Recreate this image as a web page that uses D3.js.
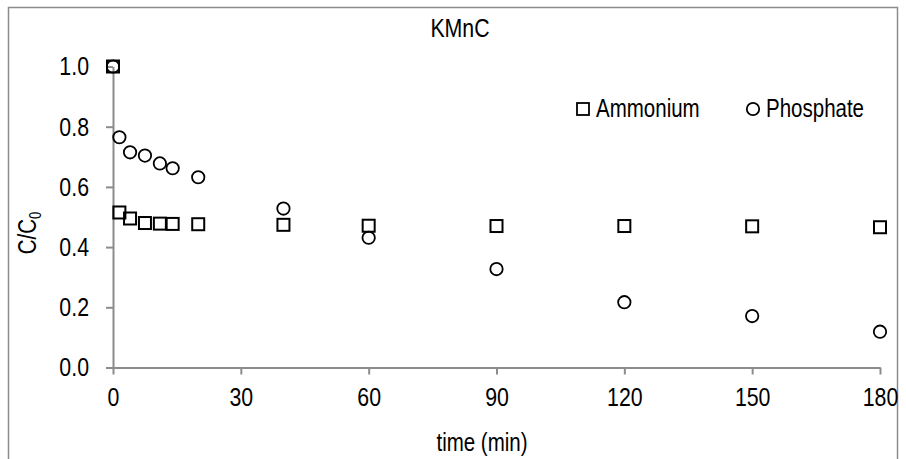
<!DOCTYPE html>
<html>
<head>
<meta charset="utf-8">
<script src="https://cdn.jsdelivr.net/npm/d3@7"></script>
<style>
  body { margin: 0; background: #fff; }
  svg text { font-family: "Liberation Sans Narrow", "Arial Narrow", "Liberation Sans", Arial, sans-serif; fill: #000; }
</style>
</head>
<body>
<svg id="chart" width="906" height="459"></svg>
<script>
// time (min) of each sample
var times = [0, 1.5, 4, 7.5, 11, 14, 20, 40, 60, 90, 120, 150, 180];
// C/C0 values
var ammonium = [1.0, 0.515, 0.495, 0.48, 0.478, 0.477, 0.476, 0.474, 0.471, 0.470, 0.470, 0.469, 0.466];
var phosphate = [1.0, 0.765, 0.715, 0.704, 0.678, 0.662, 0.632, 0.528, 0.431, 0.327, 0.217, 0.171, 0.119];
var xTicks = [0, 30, 60, 90, 120, 150, 180];
var yTicks = [0, 0.2, 0.4, 0.6, 0.8, 1.0];

var axisColor = "#8c8c8c";
var squeeze = 0.82;   // the original uses a narrow face
var svg = d3.select("#chart");

// squash text horizontally to mimic the narrow font
function narrow(sel) {
    sel.each(function() {
        var w = this.getComputedTextLength();
        this.setAttribute("textLength", w * squeeze);
        this.setAttribute("lengthAdjust", "spacingAndGlyphs");
    });
}

/* chart border */
svg.append("rect")
    .attr("x", 8.5).attr("y", 7.5)
    .attr("width", 889).attr("height", 470)
    .attr("fill", "none")
    .attr("stroke", "#8c8c8c")
    .attr("stroke-width", 1.5);

var x = d3.scaleLinear().domain([0, 180]).range([113, 880]);
var y = d3.scaleLinear().domain([0, 1]).range([367.5, 66.5]);

/* axes */
var gx = svg.append("g")
    .attr("transform", "translate(0," + y(0) + ")")
    .call(d3.axisBottom(x).tickValues(xTicks).tickSize(7).tickSizeOuter(0).tickPadding(13)
        .tickFormat(d => d));
var gy = svg.append("g")
    .attr("transform", "translate(" + x(0) + ",0)")
    .call(d3.axisLeft(y).tickValues(yTicks).tickSize(7).tickSizeOuter(0).tickPadding(17)
        .tickFormat(d3.format(".1f")));

[gx, gy].forEach(function(g) {
    g.attr("font-family", null).attr("font-size", null);
    g.select(".domain").attr("stroke", axisColor).attr("stroke-width", 2);
    g.selectAll(".tick line").attr("stroke", axisColor).attr("stroke-width", 2);
    g.selectAll(".tick text")
        .attr("font-size", 26)
        .attr("fill", "#000")
        .call(narrow);
});

/* titles */
svg.append("text")
    .attr("x", 460).attr("y", 37)
    .attr("text-anchor", "middle")
    .attr("font-size", 26)
    .text("KMnC")
    .call(narrow);

svg.append("text")
    .attr("x", 482).attr("y", 451)
    .attr("text-anchor", "middle")
    .attr("font-size", 25)
    .text("time (min)")
    .call(narrow);

var yt = svg.append("text")
    .attr("text-anchor", "middle")
    .attr("font-size", 25)
    .attr("transform", "translate(36,233) rotate(-90) scale(" + squeeze + ",1)");
yt.append("tspan").text("C/C");
yt.append("tspan").attr("font-size", 16).attr("dy", 5).text("0");

/* data */
var pts = times.map((t, i) => ({t: t, a: ammonium[i], p: phosphate[i]}));
var sq = 12;

svg.append("g").selectAll("rect")
    .data(pts)
    .join("rect")
    .attr("x", d => x(d.t) - sq / 2)
    .attr("y", d => y(d.a) - sq / 2)
    .attr("width", sq).attr("height", sq)
    .attr("fill", "none")
    .attr("stroke", "#000")
    .attr("stroke-width", 2);

svg.append("g").selectAll("circle")
    .data(pts)
    .join("circle")
    .attr("cx", d => x(d.t))
    .attr("cy", d => y(d.p))
    .attr("r", 6.2)
    .attr("fill", "none")
    .attr("stroke", "#000")
    .attr("stroke-width", 1.8);

/* legend */
var legend = svg.append("g");
legend.append("rect")
    .attr("x", 577).attr("y", 103)
    .attr("width", 12).attr("height", 12)
    .attr("fill", "none").attr("stroke", "#000").attr("stroke-width", 1.8);
legend.append("text")
    .attr("x", 596).attr("y", 117)
    .attr("font-size", 25)
    .text("Ammonium")
    .call(narrow);
legend.append("circle")
    .attr("cx", 753).attr("cy", 109).attr("r", 6.2)
    .attr("fill", "none").attr("stroke", "#000").attr("stroke-width", 1.8);
legend.append("text")
    .attr("x", 766).attr("y", 117)
    .attr("font-size", 25)
    .text("Phosphate")
    .call(narrow);
</script>
</body>
</html>
